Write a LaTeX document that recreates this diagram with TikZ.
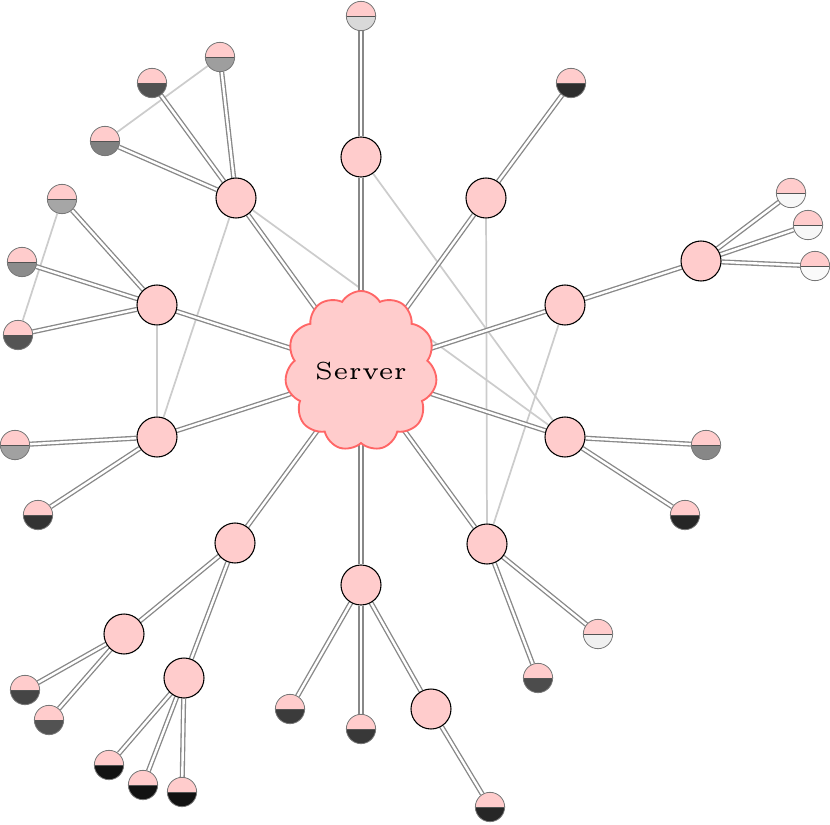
\documentclass[tikz,border=0pt]{standalone}
\usetikzlibrary{shapes.symbols,backgrounds}
\definecolor{pinkfill}{HTML}{FFCCCC}
\definecolor{cloudline}{HTML}{FF6666}
\definecolor{dblgray}{HTML}{888888}
\definecolor{lightln}{HTML}{CCCCCC}
\definecolor{leafborder}{HTML}{777777}
\tikzset{
  server/.style={cloud, cloud puffs=11, cloud puff arc=120, aspect=1,
    minimum width=114pt, minimum height=120pt, fill=pinkfill, draw=cloudline,
    line width=1.4pt, inner sep=0pt},
  mid/.style={circle, minimum size=30pt, inner sep=0pt, fill=pinkfill, draw=black, line width=0.8pt},
  leaf/.style={circle, minimum size=22pt, inner sep=0pt, draw=leafborder, line width=0.6pt,
    path picture={
      \fill[pinkfill] (path picture bounding box.north west) rectangle (path picture bounding box.east);
      \fill[fill=#1] (path picture bounding box.west) rectangle (path picture bounding box.south east);
      \draw[leafborder!70!black, line width=0.7pt] (path picture bounding box.west) -- (path picture bounding box.east);
    }},
  dbl/.style={draw=dblgray, line width=1pt, double=white, double distance=1.8pt},
  lite/.style={draw=lightln, line width=1.3pt},
}
\begin{document}
\begin{tikzpicture}[x=0.75pt,y=-0.75pt]
\useasboundingbox (0,0) rectangle (830,824);
% server
\node[server] (S) at (361,371) {\scalebox{3.7}{\fontsize{5}{6}\selectfont Server}};
% mid nodes
\node[mid] (A1) at (361,157) {};
\node[mid] (A2) at (486,198) {};
\node[mid] (A3) at (701,261) {};
\node[mid] (A4) at (565,305) {};
\node[mid] (A5) at (565,437) {};
\node[mid] (A6) at (487,544) {};
\node[mid] (A7) at (361,585) {};
\node[mid] (A8) at (431,709) {};
\node[mid] (A9) at (235,543) {};
\node[mid] (A10) at (124,634) {};
\node[mid] (A11) at (184,678) {};
\node[mid] (A12) at (157,437) {};
\node[mid] (A13) at (157,305) {};
\node[mid] (A14) at (236,198) {};
% leaves
\node[leaf=black!15] (L1) at (361,16) {};
\node[leaf=black!82] (L2) at (571,83) {};
\node[leaf=black!3] (L3) at (791,193) {};
\node[leaf=black!3] (L4) at (808,225) {};
\node[leaf=black!2] (L5) at (815,266) {};
\node[leaf=black!47] (L6) at (706,445) {};
\node[leaf=black!85] (L7) at (685,515) {};
\node[leaf=black!6] (L8) at (598,634) {};
\node[leaf=black!70] (L9) at (538,678) {};
\node[leaf=black!78] (L10) at (361,729) {};
\node[leaf=black!77] (L11) at (290,709) {};
\node[leaf=black!85] (L12) at (490,807) {};
\node[leaf=black!73] (L13) at (25,690) {};
\node[leaf=black!68] (L14) at (49,720) {};
\node[leaf=black!93] (L15) at (109,765) {};
\node[leaf=black!93] (L16) at (143,785) {};
\node[leaf=black!93] (L17) at (182,792) {};
\node[leaf=black!80] (L18) at (38,515) {};
\node[leaf=black!37] (L19) at (15,445) {};
\node[leaf=black!67] (L20) at (18,335) {};
\node[leaf=black!45] (L21) at (22,262) {};
\node[leaf=black!35] (L22) at (62,199) {};
\node[leaf=black!50] (L23) at (105,141) {};
\node[leaf=black!68] (L24) at (152,83) {};
\node[leaf=black!38] (L25) at (220,57) {};
\begin{scope}[on background layer]
% light connectors
\draw[lite] (A14.center) -- (A5.center);
\draw[lite] (A1) -- (A5);
\draw[lite] (A2) -- (A6);
\draw[lite] (A4) -- (A6);
\draw[lite] (A13) -- (A12);
\draw[lite] (A14) -- (A12);
\draw[lite] (L22) -- (L20);
\draw[lite] (L23) -- (L25);
% double connectors
\foreach \m in {A1,A2,A4,A5,A6,A7,A9,A12,A13,A14}
  \draw[dbl] (S.center) -- (\m);
\draw[dbl] (A4) -- (A3);
\draw[dbl] (A7) -- (A8);
\draw[dbl] (A9) -- (A10);
\draw[dbl] (A9) -- (A11);
\draw[dbl] (A1) -- (L1);
\draw[dbl] (A2) -- (L2);
\draw[dbl] (A3) -- (L3);
\draw[dbl] (A3) -- (L4);
\draw[dbl] (A3) -- (L5);
\draw[dbl] (A5) -- (L6);
\draw[dbl] (A5) -- (L7);
\draw[dbl] (A6) -- (L8);
\draw[dbl] (A6) -- (L9);
\draw[dbl] (A7) -- (L10);
\draw[dbl] (A7) -- (L11);
\draw[dbl] (A8) -- (L12);
\draw[dbl] (A10) -- (L13);
\draw[dbl] (A10) -- (L14);
\draw[dbl] (A11) -- (L15);
\draw[dbl] (A11) -- (L16);
\draw[dbl] (A11) -- (L17);
\draw[dbl] (A12) -- (L18);
\draw[dbl] (A12) -- (L19);
\draw[dbl] (A13) -- (L20);
\draw[dbl] (A13) -- (L21);
\draw[dbl] (A13) -- (L22);
\draw[dbl] (A14) -- (L23);
\draw[dbl] (A14) -- (L24);
\draw[dbl] (A14) -- (L25);
\end{scope}
\end{tikzpicture}
\end{document}
